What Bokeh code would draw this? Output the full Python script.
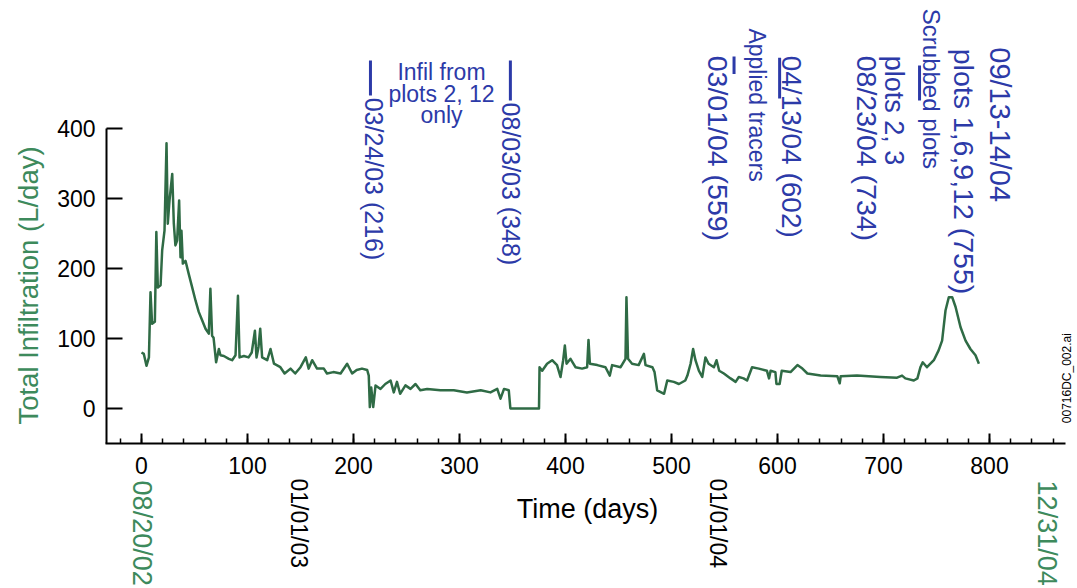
import math
from bokeh.plotting import figure
from bokeh.models import Label, Arrow, SingleIntervalTicker, FixedTicker
from bokeh.embed import file_html
from bokeh.resources import INLINE

# ---------------- data ----------------
days = [0, 2.2, 4.7, 7, 8.5, 10, 12.6, 14, 15.4, 18, 19.5, 21.7, 23.6, 24.8, 26.4, 29, 30.5, 32,
        33.6, 35.5, 36.8, 37.7, 39, 41.5, 44.6, 47.8, 51, 54, 57.2, 60.4, 63.5, 65, 66.6, 68,
        70.4, 73, 74.5, 77.7, 82.4, 85.5, 88.7, 91, 92.5, 96.6, 101, 104, 107, 108.5, 110.4,
        112, 113.8, 118.6, 121.7, 125, 131, 135, 140.6, 145, 150, 155, 157.7, 161, 165.6, 172,
        175, 181, 187.8, 194, 198.7, 203, 208, 212.9, 214.4, 215.4, 216.7, 218.6, 220.8, 225.5,
        230, 235, 238, 241, 244, 249, 253.8, 258.5, 263, 269.5, 282, 294.6, 307, 320, 329.2,
        335.6, 338.7, 342, 346.5, 348, 375, 375.5, 378, 382.6, 387.4, 392, 395.3, 397.8, 399.4,
        401, 404.7, 409.4, 415.7, 420.4, 421.7, 423, 430, 437.7, 441.8, 444, 452, 456.6, 457.5,
        459, 462.8, 469, 474, 475.5, 482, 484, 486.5, 493, 496, 502.2, 507, 513, 515, 518,
        520.4, 522.6, 525.8, 529, 532, 535, 540, 542.5, 545, 549.4, 555.7, 560.5, 563.5, 568,
        571.3, 576, 582.4, 590, 592, 593.5, 598, 599, 602, 604, 612.3, 618.8, 623.5, 628.2,
        640.7, 656.5, 658.7, 659.6, 675, 697, 712.8, 717.5, 720.6, 728.6, 732, 734.8, 737, 741,
        747.5, 752, 755.3, 758.5, 761.6, 764.8, 768, 772.7, 777.4, 782, 786.8, 790]
infiltration = [80, 78, 61, 73, 166, 121, 124, 252, 173, 176, 226, 254, 379, 264, 297, 335, 264, 233,
                240, 297, 216, 254, 207, 211, 192, 173, 154, 138, 126, 114, 107, 171, 104, 101,
                66, 85, 76, 75, 71, 69, 76, 161, 73, 75, 73, 80, 111, 73, 88,
                114, 73, 69, 85, 64, 59, 50, 57, 50, 59, 73, 57, 69, 57, 57,
                50, 52, 50, 64, 50, 55, 57, 55, 47, 2, 30, 2, 33, 28,
                35, 40, 23, 38, 21, 33, 28, 35, 26, 28, 26, 26, 23, 26, 23,
                28, 14, 28, 26, 0, 0, 59, 54, 64, 69, 62, 45, 69, 90,
                64, 71, 59, 57, 59, 98, 64, 62, 59, 47, 62, 59, 71, 159,
                71, 64, 62, 78, 62, 59, 52, 26, 21, 40, 38, 35, 40, 47, 64,
                85, 69, 54, 45, 73, 64, 59, 69, 54, 50, 43, 38, 45, 43,
                40, 59, 57, 54, 43, 54, 52, 35, 35, 54, 52, 62, 57, 50,
                47, 46, 36, 46, 47, 45, 44, 47, 43, 40, 43, 59, 66, 59,
                69, 83, 97, 140, 159, 159, 145, 116, 97, 85, 76, 64]

x_major_interval = 100
y_ticks = [0, 100, 200, 300, 400]
event_days = [216, 348, 559, 602, 734]

GREEN_LINE = "#2f6b45"
GREEN_TEXT = "#3d8a5c"
BLUE = "#2c3aa8"
FONT = "Liberation Sans"

# ---------------- figure ----------------
# the frame fills the whole canvas; the axes sit at fixed data locations
p = figure(width=1077, height=588, output_backend="svg", toolbar_location=None,
           x_range=(-133.02, 883.02), y_range=(-257.14, 582.86),
           min_border=0)
p.outline_line_color = None
p.xgrid.visible = False
p.ygrid.visible = False
p.background_fill_color = "white"
p.border_fill_color = "white"

p.line(days, infiltration, line_color=GREEN_LINE, line_width=2.5, line_join="round")

xa = p.xaxis[0]
xa.fixed_location = -50
xa.bounds = (-34, 871.7)
xa.ticker = SingleIntervalTicker(interval=x_major_interval, num_minor_ticks=5)
xa.major_tick_in = 10
xa.major_tick_out = 0
xa.minor_tick_in = 5
xa.minor_tick_out = 0
xa.axis_line_width = 2
xa.major_tick_line_width = 2
xa.minor_tick_line_width = 1.5
xa.major_label_text_font = FONT
xa.major_label_text_font_size = "23px"
xa.major_label_text_color = "black"
xa.major_label_standoff = 13

ya = p.yaxis[0]
ya.fixed_location = -33
ya.bounds = (-50, 400)
ya.ticker = FixedTicker(ticks=y_ticks)
ya.major_tick_in = 16
ya.major_tick_out = 0
ya.minor_tick_in = 0
ya.minor_tick_out = 0
ya.axis_line_width = 2
ya.major_tick_line_width = 2
ya.major_label_text_font = FONT
ya.major_label_text_font_size = "23px"
ya.major_label_text_color = "black"
ya.major_label_standoff = 11

DOWN = -math.pi / 2
UP = math.pi / 2


def lab(x, y, text, size, color, angle=DOWN, align="left", baseline="middle"):
    p.add_layout(Label(x=x, y=y, text=text, angle=angle, text_align=align,
                       text_baseline=baseline, text_font=FONT,
                       text_font_size=f"{size}px", text_color=color))


# axis titles
lab(420.8, -143, "Time (days)", 27, "black", angle=0, align="center", baseline="alphabetic")
lab(-106.6, 175.7, "Total Infiltration (L/day)", 27.5, GREEN_TEXT, angle=UP, align="center")

# top event annotations
lab(219.8, 444, "03/24/03 (216)", 25, BLUE)
lab(349, 437, "08/03/03 (348)", 25, BLUE)
lab(283, 481, "Infil from", 23, BLUE, angle=0, align="center", baseline="alphabetic")
lab(283, 450, "plots 2, 12", 23, BLUE, angle=0, align="center", baseline="alphabetic")
lab(283, 420, "only", 23, BLUE, angle=0, align="center", baseline="alphabetic")
lab(544, 504, "03/01/04 (559)", 28.5, BLUE)
lab(581, 543, "Applied tracers", 23, BLUE)
lab(613.5, 504, "04/13/04 (602)", 28, BLUE)
lab(684, 504, "08/23/04 (734)", 28.5, BLUE)
lab(710, 504, "plots 2, 3", 27, BLUE)
lab(745, 571, "Scrubbed plots", 24, BLUE)
lab(776, 514, "plots 1,6,9,12 (755)", 28.5, BLUE)
lab(810, 516, "09/13-14/04", 29, BLUE)

bar_tops = [497, 497, 503, 501, 490]
bar_bottoms = [447, 440, 478, 443, 440]
for d, t, b in zip(event_days, bar_tops, bar_bottoms):
    p.add_layout(Arrow(x_start=d, y_start=t, x_end=d, y_end=b, end=None, start=None,
                       line_color=BLUE, line_width=3))

# date labels under the axis
lab(0, -103, "08/20/02", 27, GREEN_TEXT)
lab(149, -100, "01/01/03", 23, "black")
lab(544, -100, "01/01/04", 23, "black")
lab(854, -103, "12/31/04", 27, GREEN_TEXT)
lab(873.5, -21, "00716DC_002.ai", 12, "black", angle=UP)

open("out.html", "w").write(file_html(p, INLINE))
